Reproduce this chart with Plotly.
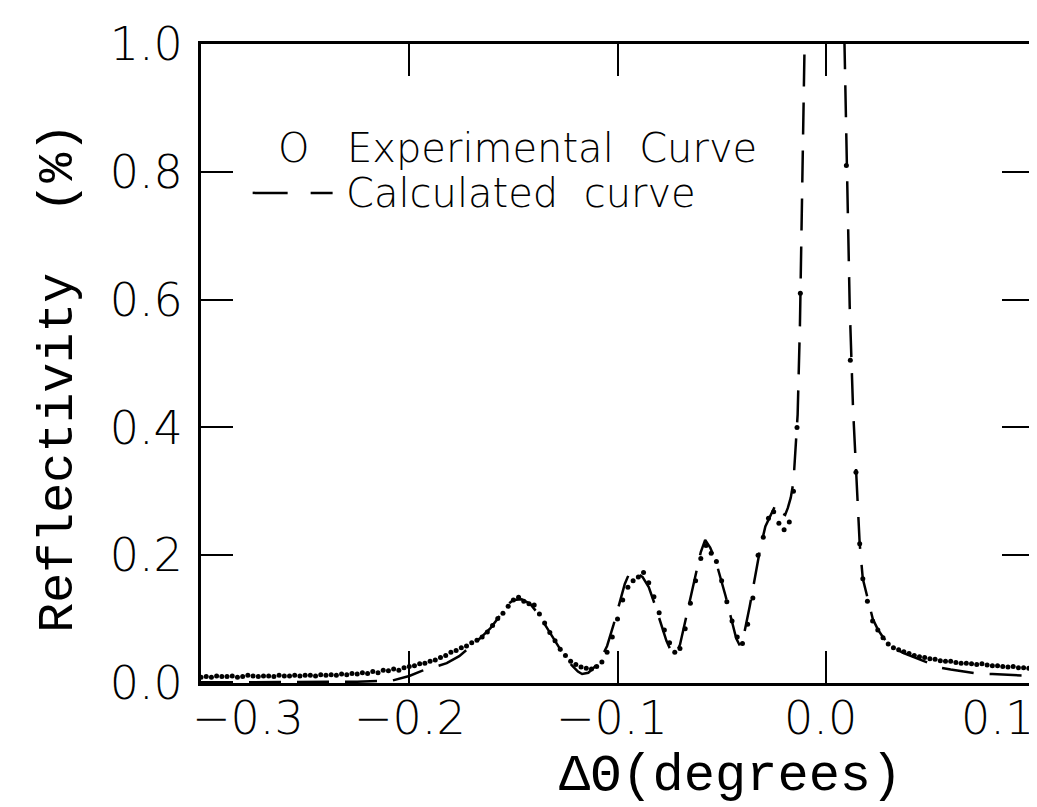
import plotly.graph_objects as go

# ---------------- data ----------------
exp_x = [
    -0.3000, -0.2975, -0.2950, -0.2925, -0.2900, -0.2875, -0.2850, -0.2825, -0.2800, -0.2775,
    -0.2750, -0.2725, -0.2700, -0.2675, -0.2650, -0.2625, -0.2600, -0.2575, -0.2550, -0.2525,
    -0.2500, -0.2475, -0.2450, -0.2425, -0.2400, -0.2375, -0.2350, -0.2325, -0.2300, -0.2275,
    -0.2250, -0.2225, -0.2200, -0.2175, -0.2150, -0.2125, -0.2100, -0.2075, -0.2050, -0.2025,
    -0.2000, -0.1975, -0.1950, -0.1925, -0.1900, -0.1875, -0.1850, -0.1825, -0.1800, -0.1775,
    -0.1750, -0.1725, -0.1700, -0.1675, -0.1650, -0.1625, -0.1600, -0.1575, -0.1550, -0.1525,
    -0.1500, -0.1475, -0.1450, -0.1425, -0.1400, -0.1375, -0.1350, -0.1325, -0.1300, -0.1275,
    -0.1250, -0.1225, -0.1200, -0.1175, -0.1150, -0.1125, -0.1100, -0.1075, -0.1050, -0.1025,
    -0.1000, -0.0975, -0.0950, -0.0925, -0.0900, -0.0875, -0.0850, -0.0825, -0.0800, -0.0775,
    -0.0750, -0.0725, -0.0700, -0.0675, -0.0650, -0.0625, -0.0600, -0.0575, -0.0550, -0.0525,
    -0.0500, -0.0475, -0.0450, -0.0425, -0.0400, -0.0375, -0.0350, -0.0325, -0.0300, -0.0275,
    -0.0250, -0.0225, -0.0200, -0.0175, -0.0155, -0.0138, -0.0122,
    0.0099, 0.0118, 0.0145, 0.0163, 0.0178, 0.0200, 0.0225, 0.0250, 0.0275, 0.0300,
    0.0325, 0.0350, 0.0375, 0.0400, 0.0425, 0.0450, 0.0475, 0.0500, 0.0525, 0.0550,
    0.0575, 0.0600, 0.0625, 0.0650, 0.0675, 0.0700, 0.0725, 0.0750, 0.0775, 0.0800,
    0.0825, 0.0850, 0.0875, 0.0900, 0.0925, 0.0950, 0.0975, 0.1000,
]
exp_y = [
    0.009, 0.010, 0.009, 0.011, 0.010, 0.010, 0.011, 0.009, 0.010, 0.012,
    0.011, 0.010, 0.011, 0.011, 0.010, 0.012, 0.011, 0.011, 0.012, 0.011,
    0.012, 0.012, 0.011, 0.013, 0.012, 0.013, 0.012, 0.014, 0.013, 0.015,
    0.014, 0.016, 0.015, 0.018, 0.016, 0.020, 0.019, 0.022, 0.020, 0.024,
    0.026, 0.027, 0.030, 0.031, 0.034, 0.036, 0.040, 0.043, 0.048, 0.051,
    0.055, 0.058, 0.063, 0.067, 0.072, 0.080, 0.090, 0.101, 0.109, 0.120,
    0.130, 0.134, 0.128, 0.124, 0.122, 0.108, 0.094, 0.079, 0.066, 0.053,
    0.043, 0.034, 0.029, 0.025, 0.023, 0.022, 0.026, 0.033, 0.048, 0.072,
    0.100, 0.130, 0.150, 0.160, 0.166, 0.173, 0.157, 0.135, 0.110, 0.083,
    0.063, 0.048, 0.054, 0.085, 0.125, 0.160, 0.195, 0.215, 0.203, 0.190,
    0.160, 0.127, 0.097, 0.072, 0.062, 0.092, 0.133, 0.200, 0.228, 0.258,
    0.268, 0.250, 0.240, 0.252, 0.300, 0.400, 0.610,
    0.810, 0.505, 0.330, 0.218, 0.163, 0.128, 0.097, 0.083, 0.071, 0.061,
    0.055, 0.052, 0.049, 0.046, 0.043, 0.041, 0.040, 0.038, 0.037, 0.035,
    0.034, 0.034, 0.032, 0.031, 0.031, 0.030, 0.029, 0.030, 0.028, 0.027,
    0.027, 0.026, 0.025, 0.026, 0.024, 0.024, 0.023, 0.022,
]

calc_x = [
    -0.300, -0.280, -0.260, -0.240, -0.225, -0.215, -0.208, -0.200, -0.194, -0.188,
    -0.182, -0.176, -0.171, -0.166, -0.161, -0.157, -0.153, -0.150, -0.146, -0.142,
    -0.138, -0.134, -0.130, -0.126, -0.122, -0.119, -0.117, -0.114, -0.111, -0.108,
    -0.105, -0.102, -0.099, -0.0965, -0.0938, -0.091, -0.088, -0.085, -0.082, -0.079,
    -0.0765, -0.074, -0.0722, -0.070, -0.0675, -0.065, -0.0625, -0.060, -0.0579, -0.0555,
    -0.053, -0.0505, -0.048, -0.0455, -0.043, -0.0412, -0.039, -0.0365, -0.034, -0.0315,
    -0.029, -0.0265, -0.0245, -0.0235, -0.0222, -0.021, -0.0195, -0.0182, -0.0168, -0.0155,
    -0.0145, -0.0135, -0.0124, -0.0115, -0.0105, -0.008, -0.005, 0.000, 0.004, 0.007,
    0.009, 0.0105, 0.0115, 0.0131, 0.0147, 0.0163, 0.0178, 0.0195, 0.0211, 0.0226,
    0.025, 0.0274, 0.030, 0.033, 0.038, 0.044, 0.050, 0.055, 0.060, 0.066,
    0.072, 0.080, 0.090, 0.100,
]
calc_y = [
    0.001, 0.001, 0.001, 0.002, 0.002, 0.003, 0.004, 0.011, 0.019, 0.025,
    0.031, 0.042, 0.056, 0.070, 0.086, 0.103, 0.122, 0.130, 0.131, 0.124,
    0.108, 0.088, 0.066, 0.045, 0.028, 0.018, 0.014, 0.016, 0.025, 0.038,
    0.058, 0.090, 0.125, 0.155, 0.176, 0.172, 0.166, 0.150, 0.122, 0.092,
    0.066, 0.048, 0.044, 0.060, 0.096, 0.135, 0.170, 0.205, 0.224, 0.212,
    0.193, 0.165, 0.135, 0.102, 0.070, 0.058, 0.080, 0.120, 0.165, 0.210,
    0.245, 0.263, 0.276, 0.280, 0.276, 0.266, 0.263, 0.274, 0.290, 0.315,
    0.360, 0.420, 0.560, 0.760, 1.000, 1.800, 2.600, 3.000, 2.600, 1.800,
    1.000, 0.720, 0.590, 0.430, 0.317, 0.218, 0.163, 0.140, 0.122, 0.100,
    0.084, 0.072, 0.062, 0.054, 0.046, 0.038, 0.030, 0.024, 0.021, 0.018,
    0.015, 0.014, 0.013, 0.011,
]

x_tick_vals = [-0.3, -0.2, -0.1, 0.0, 0.1]
x_tick_text = ["\u22120.3", "\u22120.2", "\u22120.1", "0.0", "0.1"]
y_tick_vals = [0.0, 0.2, 0.4, 0.6, 0.8, 1.0]
y_tick_text = ["0.0", "0.2", "0.4", "0.6", "0.8", "1.0"]

legend_exp = "Experimental\u00a0\u00a0Curve"
legend_calc = "Calculated\u00a0\u00a0curve"
x_title = "\u0394\u0398(degrees)"
y_title = "Reflectivity\u00a0\u00a0(%)"

# ---------------- figure ----------------
SANS = "DejaVu Sans"
SERIF = "Liberation Mono"

fig = go.Figure()
fig.add_trace(go.Scatter(
    x=calc_x, y=calc_y, mode="lines", name="Calculated curve",
    line=dict(color="black", width=2.5, dash="32px,16px"),
))
fig.add_trace(go.Scatter(
    x=exp_x, y=exp_y, mode="markers", name="Experimental Curve",
    marker=dict(color="black", size=5),
))

axis_common = dict(
    showgrid=False, zeroline=False, showline=True, linecolor="black", linewidth=3,
    mirror="allticks", ticks="inside", ticklen=32, tickwidth=2, tickcolor="black",
)

fig.update_layout(
    width=1037, height=807,
    margin=dict(l=193, r=8, t=36, b=132),
    paper_bgcolor="white", plot_bgcolor="white",
    showlegend=False,
    xaxis=dict(range=[-0.3, 0.1], tickvals=x_tick_vals, showticklabels=False, **axis_common),
    yaxis=dict(range=[0, 1], tickvals=y_tick_vals, ticktext=y_tick_text,
               tickfont=dict(family=SANS, size=46, color="black", weight=300),
               ticklabelstandoff=6, **axis_common),
)

# x tick labels, placed where the original draws them (paper fraction);
# the end labels are pulled inside the frame as in the original
x_label_pos = [0.057, 0.251, 0.493, 0.744, 0.956]
for txt, px in zip(x_tick_text, x_label_pos):
    fig.add_annotation(text=txt, x=px, y=-0.055, xref="paper", yref="paper",
                       xanchor="center", yanchor="middle", showarrow=False,
                       font=dict(family=SANS, size=46, color="black", weight=300))

# axis titles
fig.add_annotation(text=x_title, x=0.636, y=-0.147, xref="paper", yref="paper",
                   xanchor="center", yanchor="middle", showarrow=False,
                   font=dict(family=SERIF, size=52, color="black"))
fig.add_annotation(text=y_title, x=-0.171, y=0.477, xref="paper", yref="paper",
                   xanchor="center", yanchor="middle", showarrow=False, textangle=-90,
                   font=dict(family=SERIF, size=50, color="black"))

# legend drawn inside the frame
fig.add_annotation(text="O", x=0.111, y=0.837, xref="paper", yref="paper",
                   xanchor="center", yanchor="middle", showarrow=False,
                   font=dict(family=SANS, size=40, color="black", weight=300))
fig.add_annotation(text=legend_exp, x=0.1734, y=0.837, xref="paper", yref="paper",
                   xanchor="left", yanchor="middle", showarrow=False,
                   font=dict(family=SANS, size=40, color="black", weight=300))
fig.add_shape(type="line", x0=0.062, x1=0.158, y0=0.767, y1=0.767,
              xref="paper", yref="paper",
              line=dict(color="black", width=2.5, dash="35px,23px"))
fig.add_annotation(text=legend_calc, x=0.1722, y=0.767, xref="paper", yref="paper",
                   xanchor="left", yanchor="middle", showarrow=False,
                   font=dict(family=SANS, size=40, color="black", weight=300))

fig.write_html("out.html")
